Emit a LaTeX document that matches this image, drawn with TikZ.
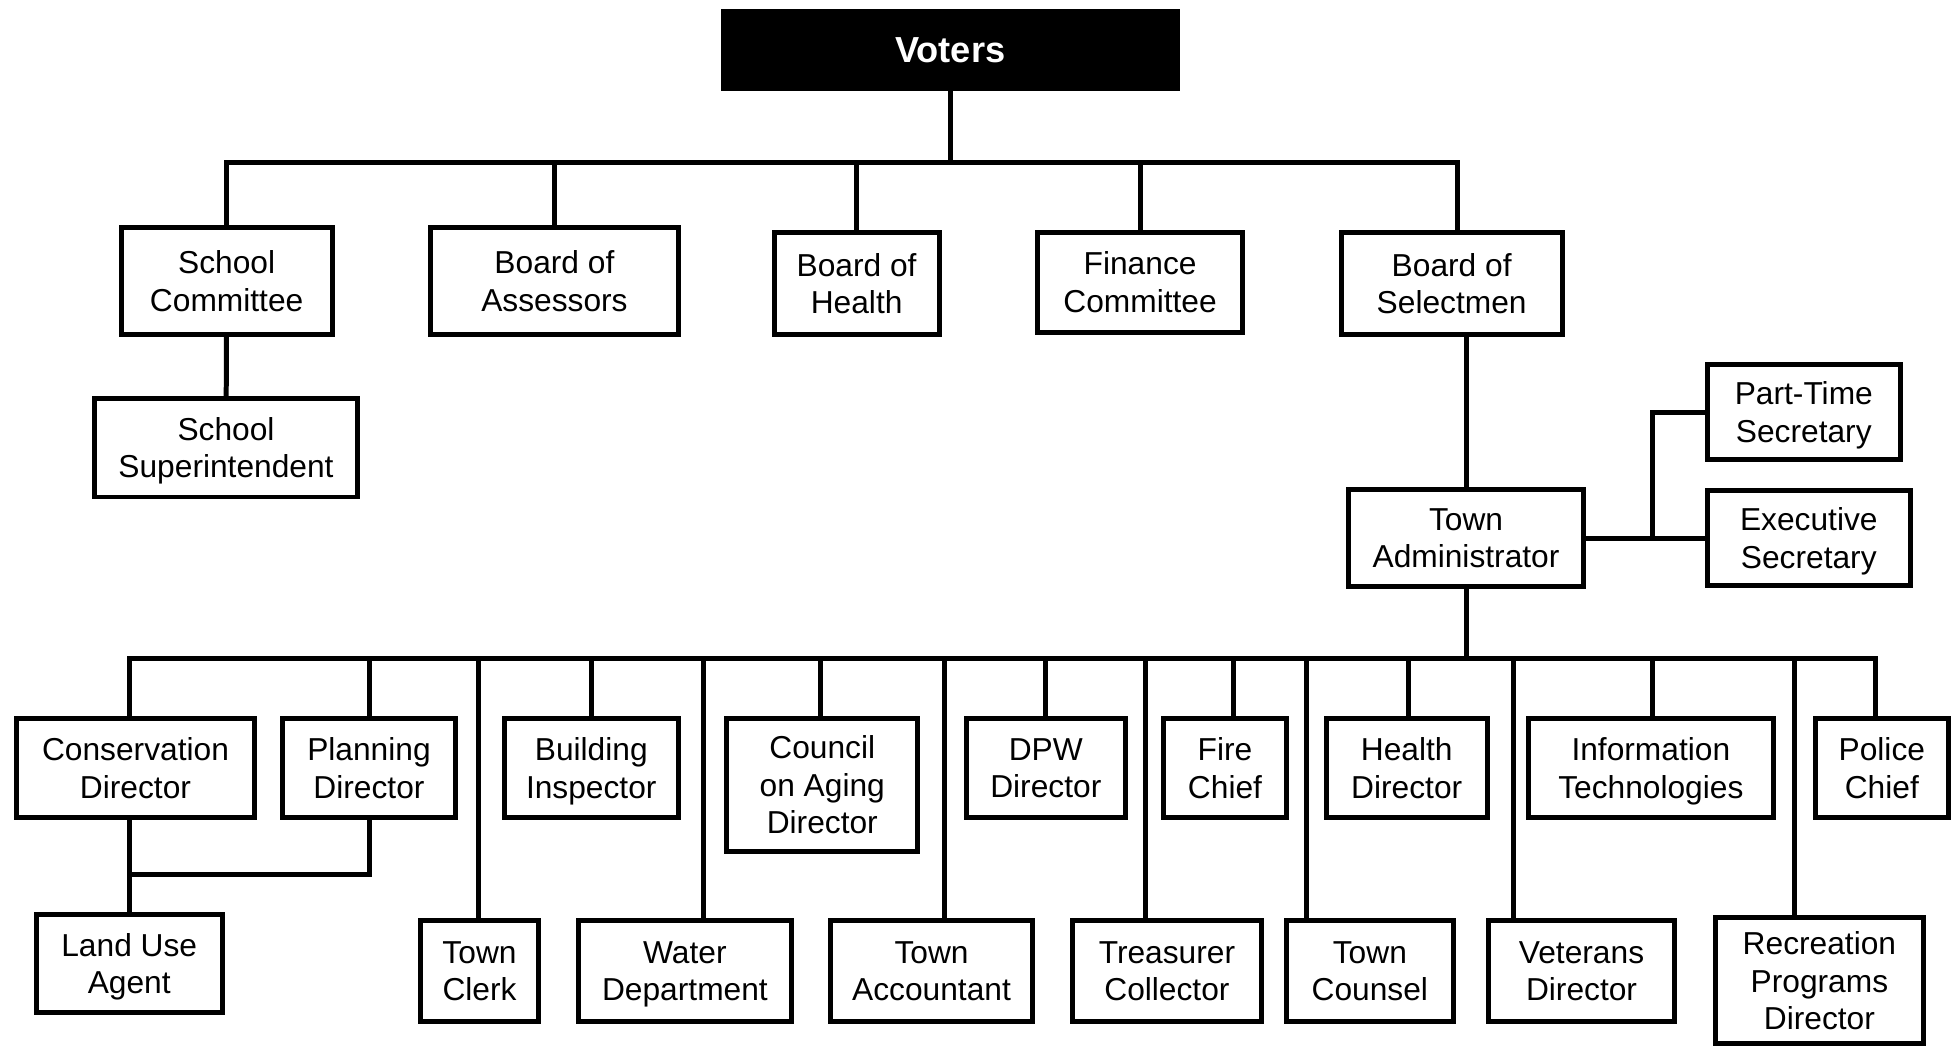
\documentclass[tikz,border=0pt]{standalone}
\usepackage{fontspec}
\setmainfont{Liberation Sans}
\usetikzlibrary{calc}

\begin{document}
\begin{tikzpicture}[x=1pt, y=-1pt,
            every node/.style = {align=center, inner sep=0pt},
            box/.style = {draw, line width=4pt, text depth=0pt, font=\fontsize{25.4}{30}\selectfont},
            link/.style = {line width=4pt}]
            \useasboundingbox (0,0) rectangle (1568,838);
            % voters and boards
            \node[fill=black, minimum width=368, minimum height=66, text=white,
                font=\bfseries\fontsize{29}{34}\selectfont] (voters) at (761,40) {Voters};
            \node[box, minimum width=169, minimum height=86] (schoolcom) at (181.5,225) {School\\Committee};
            \node[box, minimum width=198, minimum height=86] (assessors) at (444,225) {Board of\\Assessors};
            \node[box, minimum width=132, minimum height=82] (boardhealth) at (686,227) {Board of\\Health};
            \node[box, minimum width=164, minimum height=80] (finance) at (913,226) {Finance\\Committee};
            \node[box, minimum width=177, minimum height=82] (selectmen) at (1162.5,227) {Board of\\Selectmen};
            \node[box, minimum width=210, minimum height=79] (superint) at (181,358.5) {School\\Superintendent};
            \node[box, minimum width=188, minimum height=78] (townadmin) at (1174,431) {Town\\Administrator};
            \node[box, minimum width=155, minimum height=76] (parttime) at (1444.5,330) {Part-Time\\Secretary};
            \node[box, minimum width=163, minimum height=76] (execsec) at (1448.5,431) {Executive\\Secretary};
            % departments, upper row
            \node[box, minimum width=191, minimum height=80] (conserv) at (108.5,615) {Conservation\\Director};
            \node[box, minimum width=139, minimum height=80] (planning) at (295.5,615) {Planning\\Director};
            \node[box, minimum width=139, minimum height=80] (building) at (473.5,615) {Building\\Inspector};
            \node[box, minimum width=153, minimum height=107] (aging) at (658.5,628.5) {Council\\on Aging\\Director};
            \node[box, minimum width=127, minimum height=80] (dpw) at (837.5,615) {DPW\\Director};
            \node[box, minimum width=98, minimum height=80] (fire) at (981,615) {Fire\\Chief};
            \node[box, minimum width=129, minimum height=80] (healthdir) at (1126.5,615) {Health\\Director};
            \node[box, minimum width=196, minimum height=80] (infotech) at (1322,615) {Information\\Technologies};
            \node[box, minimum width=106, minimum height=80] (police) at (1507,615) {Police\\Chief};
            % departments, lower row
            \node[box, minimum width=149, minimum height=79] (landuse) at (103.5,771.5) {Land Use\\Agent};
            \node[box, minimum width=94, minimum height=81] (clerk) at (384,777.5) {Town\\Clerk};
            \node[box, minimum width=171, minimum height=81] (water) at (548.5,777.5) {Water\\Department};
            \node[box, minimum width=162, minimum height=81] (accountant) at (746,777.5) {Town\\Accountant};
            \node[box, minimum width=151, minimum height=81] (treasurer) at (934.5,777.5) {Treasurer\\Collector};
            \node[box, minimum width=134, minimum height=81] (counsel) at (1097,777.5) {Town\\Counsel};
            \node[box, minimum width=149, minimum height=81] (veterans) at (1266.5,777.5) {Veterans\\Director};
            \node[box, minimum width=166, minimum height=101] (recreation) at (1457,785.5) {Recreation\\Programs\\Director};
            % connectors
            \coordinate (topbus) at (0,130);
            \coordinate (bus) at (0,527);
            \draw[link] (voters.south) -- (voters.south |- topbus);
            \draw[link] (schoolcom.north) |- ([xshift=4.5pt]selectmen.north |- topbus) -- ([xshift=4.5pt]selectmen.north);
            \foreach \n in {assessors, boardhealth, finance}
                \draw[link] (\n.north) -- (\n.north |- topbus);
            \draw[link] (schoolcom) -- (superint);
            \draw[link] (townadmin.north) -- (townadmin.north |- selectmen.south);
            \draw[link] (townadmin) -- (execsec);
            \coordinate (split) at ($(townadmin.east)!0.56!(execsec.west)$);
            \draw[link] (parttime.west) -| (split);
            \draw[link] (townadmin.south) -- (townadmin.south |- bus);
            \draw[link] ([xshift=-5pt]conserv.north) |- ([xshift=-5pt]police.north |- bus) -- ([xshift=-5pt]police.north);
            \foreach \n/\dx in {planning/0, building/0, aging/-1.5, dpw/0, fire/7, healthdir/1.5,
                    infotech/1, clerk/-1, water/14.5, accountant/10, treasurer/-17.5,
                    counsel/-51, veterans/-54.5, recreation/-20}
                \draw[link] ([xshift=\dx pt]\n.north) -- ([xshift=\dx pt]\n.north |- bus);
            \draw[link] (conserv.south -| landuse) -- (landuse.north);
            \draw[link] (planning.south) |- ($(landuse.north)+(0,-30)$);
\end{tikzpicture}
\end{document}
